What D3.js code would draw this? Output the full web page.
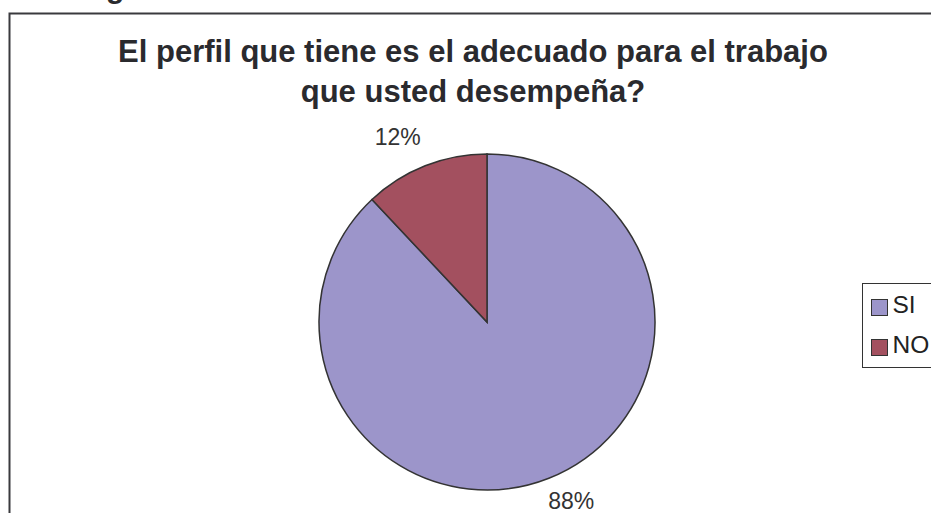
<!DOCTYPE html>
<meta charset="utf-8">
<style>
  body { margin: 0; background: #fff; }
  text { font-family: "Liberation Sans", Arial, sans-serif; }
</style>
<svg width="931" height="513"></svg>
<script src="https://d3js.org/d3.v7.min.js"></script>
<script>

var categories = ["SI", "NO"],
    values = [88, 12],
    colors = ["#9c95ca", "#a3505f"],
    titleLines = ["El perfil que tiene es el adecuado para el trabajo", "que usted desempeña?"];

var svg = d3.select("svg"),
    width = +svg.attr("width"),
    height = +svg.attr("height");

// cut off heading above the chart frame
svg.append("text")
    .attr("x", 106)
    .attr("y", -2)
    .attr("font-size", 30)
    .attr("font-weight", "bold")
    .attr("fill", "#2a2a2e")
    .text("g");

// chart frame (runs off the right and bottom edges)
svg.append("rect")
    .attr("x", 9.5)
    .attr("y", 13.5)
    .attr("width", 1000)
    .attr("height", 600)
    .attr("fill", "#fff")
    .attr("stroke", "#3a3a3e")
    .attr("stroke-width", 2);

svg.append("g").selectAll("text")
    .data(titleLines)
  .enter().append("text")
    .attr("x", 473)
    .attr("y", function(d, i) { return 62 + i * 40; })
    .attr("text-anchor", "middle")
    .attr("font-size", 31)
    .attr("font-weight", "bold")
    .attr("fill", "#2a2a2e")
    .text(function(d) { return d; });

var cx = 487, cy = 322, r = 168;

var pie = d3.pie().sort(null).value(function(d) { return d; });
var arcs = pie(values);

var arc = d3.arc().innerRadius(0).outerRadius(r);
var labelArc = d3.arc().innerRadius(r + 20).outerRadius(r + 20);

var g = svg.append("g").attr("transform", "translate(" + cx + "," + cy + ")");

g.selectAll("path")
    .data(arcs)
  .enter().append("path")
    .attr("d", arc)
    .attr("fill", function(d, i) { return colors[i]; })
    .attr("stroke", "#333")
    .attr("stroke-width", 1.5);

var total = d3.sum(values);

// outside labels: the corner of the text nearest the pie sits on the label ring
g.selectAll(".lbl")
    .data(arcs)
  .enter().append("text")
    .attr("class", "lbl")
    .attr("transform", function(d) {
      var c = labelArc.centroid(d);
      return "translate(" + (c[0] < 0 ? c[0] + 3 : c[0] - 8) + "," + c[1] + ")";
    })
    .attr("text-anchor", function(d) { return labelArc.centroid(d)[0] < 0 ? "end" : "start"; })
    .attr("dy", function(d) { return labelArc.centroid(d)[1] < 0 ? "-0.1em" : "0.55em"; })
    .attr("font-size", 23)
    .attr("fill", "#333")
    .text(function(d) { return Math.round(d.value / total * 100) + "%"; });

// legend
var legend = svg.append("g");

legend.append("rect")
    .attr("x", 862.5)
    .attr("y", 283.5)
    .attr("width", 100)
    .attr("height", 84)
    .attr("fill", "#fff")
    .attr("stroke", "#333")
    .attr("stroke-width", 1);

var item = legend.selectAll(".item")
    .data(categories)
  .enter().append("g")
    .attr("transform", function(d, i) { return "translate(871.5," + (299.5 + i * 40) + ")"; });

item.append("rect")
    .attr("width", 16)
    .attr("height", 16)
    .attr("fill", function(d, i) { return colors[i]; })
    .attr("stroke", "#333")
    .attr("stroke-width", 1);

item.append("text")
    .attr("x", 21)
    .attr("y", 13)
    .attr("font-size", 24.5)
    .attr("fill", "#222")
    .text(function(d) { return d; });

</script>
